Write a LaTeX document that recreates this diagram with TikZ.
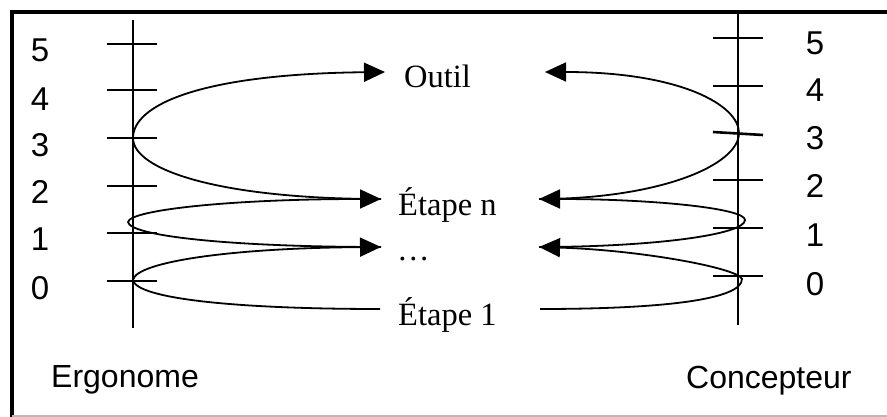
\documentclass[tikz,border=0pt]{standalone}
\usepackage{fontspec}
\setmainfont{Liberation Serif}
\newfontfamily\sansf{Liberation Sans}
\usetikzlibrary{arrows.meta}
\begin{document}
\begin{tikzpicture}[x=1pt,y=-1pt,
  axisline/.style={line width=2.8pt},
  tickline/.style={line width=2.6pt},
  curve/.style={line width=1.8pt},
  arr/.style={curve,-{Triangle[length=21pt,width=19pt]}},
  num/.style={font=\sansf\fontsize{33}{38}\selectfont, inner sep=0pt, anchor=base},
  lab/.style={font=\sansf\fontsize{32}{38}\selectfont, inner sep=0pt, anchor=base west},
  stage/.style={font=\fontsize{32.5}{38}\selectfont, inner sep=0pt, anchor=base west}]
\useasboundingbox (0,0) rectangle (887,417);
% frame
\draw[line width=3.5pt] (887,12) -- (12,12) -- (12,417);
\draw[gray!55, line width=1.2pt] (12,416) -- (887,416);
% axes
\draw[axisline] (133,20) -- (133,328);
\draw[axisline] (738,12) -- (738,325);
\foreach \y in {44,90,138,186,233,281} \draw[tickline] (107,\y) -- (157,\y);
\foreach \y in {38,86,180,228,276} \draw[tickline] (713,\y) -- (763,\y);
\draw[tickline] (713,132) -- (763,135);
% numbers
\foreach \n/\y in {5/61.5,4/111,3/157,2/204,1/251,0/299} \node[num] (l\n) at (40,\y) {\n};
\foreach \n/\y in {5/55,4/102,3/150,2/198,1/247,0/295} \node[num] (r\n) at (815,\y) {\n};
% labels
\node[lab] (ergo) at (51,387) {Ergonome};
\node[lab] (conc) at (686,388) {Concepteur};
\node[stage] (outil) at (404,88) {Outil};
\node[stage] (etn) at (398,215) {Étape n};
\node[stage] (dots) at (397,261) {…};
\node[stage] (et1) at (398,325) {Étape 1};
% connection points
\coordinate (L3) at (133,138);
\coordinate (L1) at (128,222);
\coordinate (L0) at (133,280);
\coordinate (R3) at (739,133);
\coordinate (R1) at (745,220);
\coordinate (R0) at (742,279);
\coordinate (aO) at (385,72);
\coordinate (aN) at (381,199);
\coordinate (aD) at (381,247);
\coordinate (aE) at (380,309);
\coordinate (bO) at (545,72);
\coordinate (bN) at (539,199);
\coordinate (bD) at (539,247);
\coordinate (bE) at (540,309);
% left loops
\draw[arr] (aE) .. controls (230,309) and (136,298) .. (L0)
  .. controls (136,262) and (230,248) .. (aD);
\draw[arr] (aD) .. controls (230,247) and (130,236) .. (L1)
  .. controls (130,210) and (230,199) .. (aN);
\draw[arr] (aN) .. controls (220,199) and (133,170) .. (L3)
  .. controls (133,105) and (200,74) .. (aO);
% right loops
\draw[arr] (bE) .. controls (660,309) and (742,300) .. (R0)
  .. controls (738,268) and (640,250) .. (bD);
\draw[arr] (bD) .. controls (650,247) and (745,235) .. (R1)
  .. controls (745,208) and (650,199) .. (bN);
\draw[arr] (bN) .. controls (660,199) and (739,165) .. (R3)
  .. controls (739,105) and (680,72) .. (bO);
\end{tikzpicture}
\end{document}
